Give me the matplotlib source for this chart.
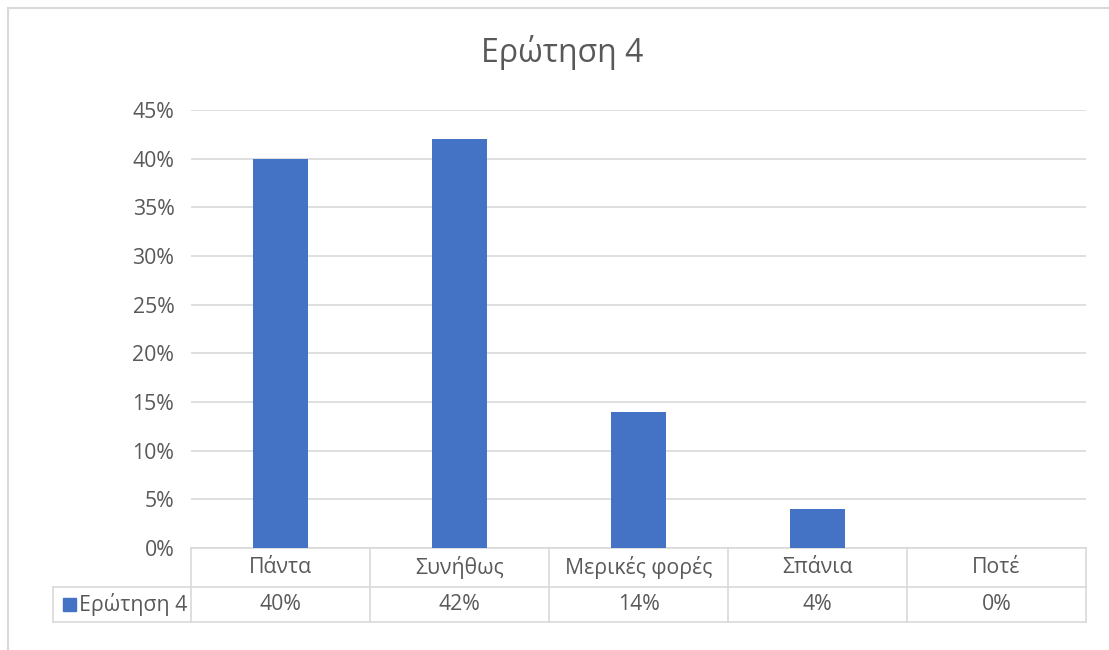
import matplotlib
matplotlib.use("Agg")
import matplotlib.pyplot as plt
from matplotlib.lines import Line2D
from matplotlib.patches import Rectangle

categories = ["Πάντα", "Συνήθως", "Μερικές φορές", "Σπάνια", "Ποτέ"]
values = [40, 42, 14, 4, 0]
series_name = "Ερώτηση 4"
title = "Ερώτηση 4"
yticks = [0, 5, 10, 15, 20, 25, 30, 35, 40, 45]

plt.rcParams['font.family'] = ['Open Sans', 'DejaVu Sans']
W, H = 1109, 650
fig = plt.figure(figsize=(W / 100, H / 100), dpi=100)
fig.patch.set_facecolor('white')

TXT = '#595959'
GRID = '#d9d9d9'
BAR = '#4472C4'
FS = 15.3

def fx(px):
    return px / W

def fy(py):
    return 1 - py / H

# chart border
fig.add_artist(Rectangle((fx(8), fy(700)), fx(1140) - fx(8), fy(8) - fy(700),
                         transform=fig.transFigure, fill=False, edgecolor=GRID, lw=1.5))

L, R, T, B = 191, 1086, 110, 548
ax = fig.add_axes([fx(L), fy(B), fx(R) - fx(L), fy(T) - fy(B)])
n = len(categories)
ax.bar(range(n), values, width=0.31, color=BAR, zorder=3)
ax.set_xlim(-0.5, n - 0.5)
ax.set_ylim(0, 45)
ax.set_yticks(yticks)
ax.set_yticklabels([f"{v}%" for v in yticks], color=TXT, fontsize=FS)
ax.yaxis.grid(True, color=GRID, lw=1.2, zorder=0)
ax.set_xticks([])
ax.tick_params(axis='y', length=0, pad=12)
for s in ['top', 'right', 'left']:
    ax.spines[s].set_visible(False)
ax.spines['bottom'].set_color(GRID)
ax.spines['bottom'].set_linewidth(1.2)

fig.text(fx(562), fy(52), title, ha='center', va='center', fontsize=23, color=TXT)

# data table
row1, row2, row3 = 548, 587, 622
colx = [L + (R - L) * i / n for i in range(n + 1)]
def hline(x0, x1, y):
    fig.add_artist(Line2D([fx(x0), fx(x1)], [fy(y), fy(y)], transform=fig.transFigure, color=GRID, lw=1.2))
def vline(x, y0, y1):
    fig.add_artist(Line2D([fx(x), fx(x)], [fy(y0), fy(y1)], transform=fig.transFigure, color=GRID, lw=1.2))

hline(53, R, row2)
hline(53, R, row3)
for x in colx:
    vline(x, row1, row3)
vline(53, row2, row3)

for i, c in enumerate(categories):
    cx = (colx[i] + colx[i + 1]) / 2
    fig.text(fx(cx), fy((row1 + row2) / 2), c, ha='center', va='center', fontsize=FS, color=TXT)
    fig.text(fx(cx), fy((row2 + row3) / 2), f"{values[i]}%", ha='center', va='center', fontsize=FS, color=TXT)

fig.add_artist(Rectangle((fx(63), fy(611)), fx(13) - fx(0), fy(0) - fy(13),
                         transform=fig.transFigure, color=BAR))
fig.text(fx(79), fy((row2 + row3) / 2), series_name, ha='left', va='center', fontsize=FS, color=TXT)

fig.savefig("out.png", dpi=100, facecolor='white')
